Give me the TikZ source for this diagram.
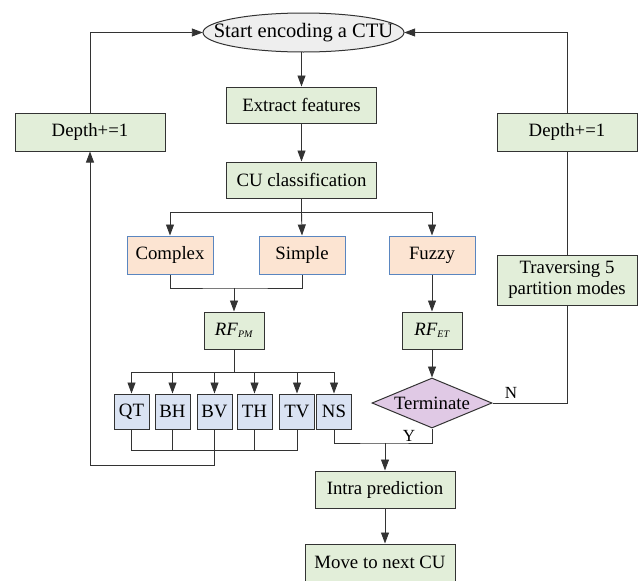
\documentclass[tikz,border=0pt]{standalone}
\usepackage{fontspec}
\setmainfont{Liberation Serif}
\usetikzlibrary{arrows.meta,shapes.geometric}
\definecolor{boxgreen}{HTML}{E2EED9}
\definecolor{boxpeach}{HTML}{FCE4D2}
\definecolor{boxblue}{HTML}{DAE3F3}
\definecolor{bordblue}{HTML}{5A86C0}
\definecolor{diapurple}{HTML}{E0C9E5}
\definecolor{ellgray}{HTML}{EEEEEE}
\definecolor{linec}{HTML}{333333}
\tikzset{
  base/.style={inner sep=0pt, font=\fontsize{18.8}{20}\selectfont, align=center},
  gbox/.style={base, rectangle, draw=linec, line width=1pt, fill=boxgreen},
  pbox/.style={base, rectangle, draw=bordblue, line width=1pt, fill=boxpeach, minimum width=86pt, minimum height=38pt},
  sbox/.style={base, rectangle, draw=linec, line width=1pt, fill=boxblue, minimum width=35pt, minimum height=35pt},
  conn/.style={draw=linec, line width=0.9pt},
  arr/.style={conn, -{Triangle[length=11pt,width=8pt]}},
  lbl/.style={inner sep=0pt, font=\fontsize{17}{18}\selectfont}
}
\newcommand{\rfsub}[1]{\textit{RF}\raisebox{-0.3ex}{\fontsize{10}{10}\selectfont\textit{#1}}}
\begin{document}
\begin{tikzpicture}[x=1pt,y=-1pt]
\useasboundingbox (0,0) rectangle (638,581);
\fill[white] (0,0) rectangle (638,581);
% start terminal: ellipse drawn around a rectangle node of the same extent
\draw[linec, line width=1pt, fill=ellgray] (303.5,32.5) ellipse [x radius=100.5pt, y radius=19.5pt];
\node[base, minimum width=201pt, minimum height=39pt, font=\fontsize{20.5}{22}\selectfont] (start) at (303.5,32.5) {Start encoding a CTU};
% nodes
\node[gbox, minimum width=150pt, minimum height=36pt] (extract) at (301.5,105) {Extract features};
\node[gbox, minimum width=150pt, minimum height=36pt] (cucls) at (301.5,180) {CU classification};
\node[gbox, minimum width=150pt, minimum height=38pt] (depthL) at (90,132) {Depth+=1};
\node[gbox, minimum width=140pt, minimum height=38pt] (depthR) at (567,132) {Depth+=1};
\node[pbox] (complex) at (170,255) {Complex};
\node[pbox] (simple) at (302,255) {Simple};
\node[pbox] (fuzzy) at (432,255) {Fuzzy};
\node[gbox, minimum width=140pt, minimum height=50pt, font=\fontsize{18.8}{21}\selectfont] (trav) at (567,280) {Traversing 5\\partition modes};
\node[gbox, minimum width=60pt, minimum height=37pt] (rfpm) at (234,330.5) {\rfsub{PM}};
\node[gbox, minimum width=60pt, minimum height=37pt] (rfet) at (432,330.5) {\rfsub{ET}};
\node[sbox] (qt) at (131.5,411.5) {QT};
\node[sbox] (bh) at (172.5,411.5) {BH};
\node[sbox] (bv) at (214.5,411.5) {BV};
\node[sbox] (th) at (254.5,411.5) {TH};
\node[sbox] (tv) at (297,411.5) {TV};
\node[sbox] (ns) at (334,411.5) {NS};
\node[base, diamond, draw=linec, line width=1pt, fill=diapurple, minimum width=120pt, minimum height=50pt, aspect=2.4] (term) at (432,403) {Terminate};
\node[gbox, minimum width=140pt, minimum height=37pt] (intra) at (385,489.5) {Intra prediction};
\node[gbox, minimum width=150pt, minimum height=37pt] (move) at (380,562.5) {Move to next CU};
% labels
\node[lbl] (nlab) at (511,393) {N};
\node[lbl] (ylab) at (409,436) {Y};
% helper coordinates
\coordinate (br) at (301.5,212);
\coordinate (mg) at (234,288);
\coordinate (pm) at (234,372);
\coordinate (ys) at (385,443);
% connectors
\draw[arr] (extract.north |- start.south) -- (extract.north);
\draw[arr] (extract) -- (cucls);
\draw[conn] (cucls.south) -- (br);
\draw[conn] (complex.north |- br) -- (fuzzy.north |- br);
\draw[arr] (complex.north |- br) -- (complex.north);
\draw[arr] (br) -- (simple.north);
\draw[arr] (fuzzy.north |- br) -- (fuzzy.north);
\draw[conn] (complex.south) |- (mg) -| (simple.south);
\draw[arr] (mg) -- (rfpm.north);
\draw[arr] (fuzzy.south) -- (rfet.north);
\draw[arr] (rfet.south) -- (term.north);
\draw[conn] (rfpm.south) -- (pm);
\draw[conn] (qt.north |- pm) -- (ns.north |- pm);
\foreach \b in {qt,bh,bv,th,tv,ns} {\draw[arr] (\b.north |- pm) -- (\b.north);}
\draw[conn] (qt.south) -- (qt.south |- 0,450) -- (tv.south |- 0,450) -- (tv.south);
\draw[conn] (bh.south) -- (bh.south |- 0,450);
\draw[conn] (th.south) -- (th.south |- 0,450);
\draw[arr] (bv.south) -- (bv.south |- 0,465) -- (depthL.south |- 0,465) -- (depthL.south);
\draw[arr] (depthL.north) |- (start.west);
\draw[conn] (ns.south) |- (ys) -| (term.south);
\draw[arr] (ys) -- (intra.north);
\draw[arr] (intra.south) -- (intra.south |- move.north);
\draw[conn] (term.east) -| (trav.south);
\draw[conn] (trav.north) -- (depthR.south);
\draw[arr] (depthR.north) |- (start.east);
\end{tikzpicture}
\end{document}
